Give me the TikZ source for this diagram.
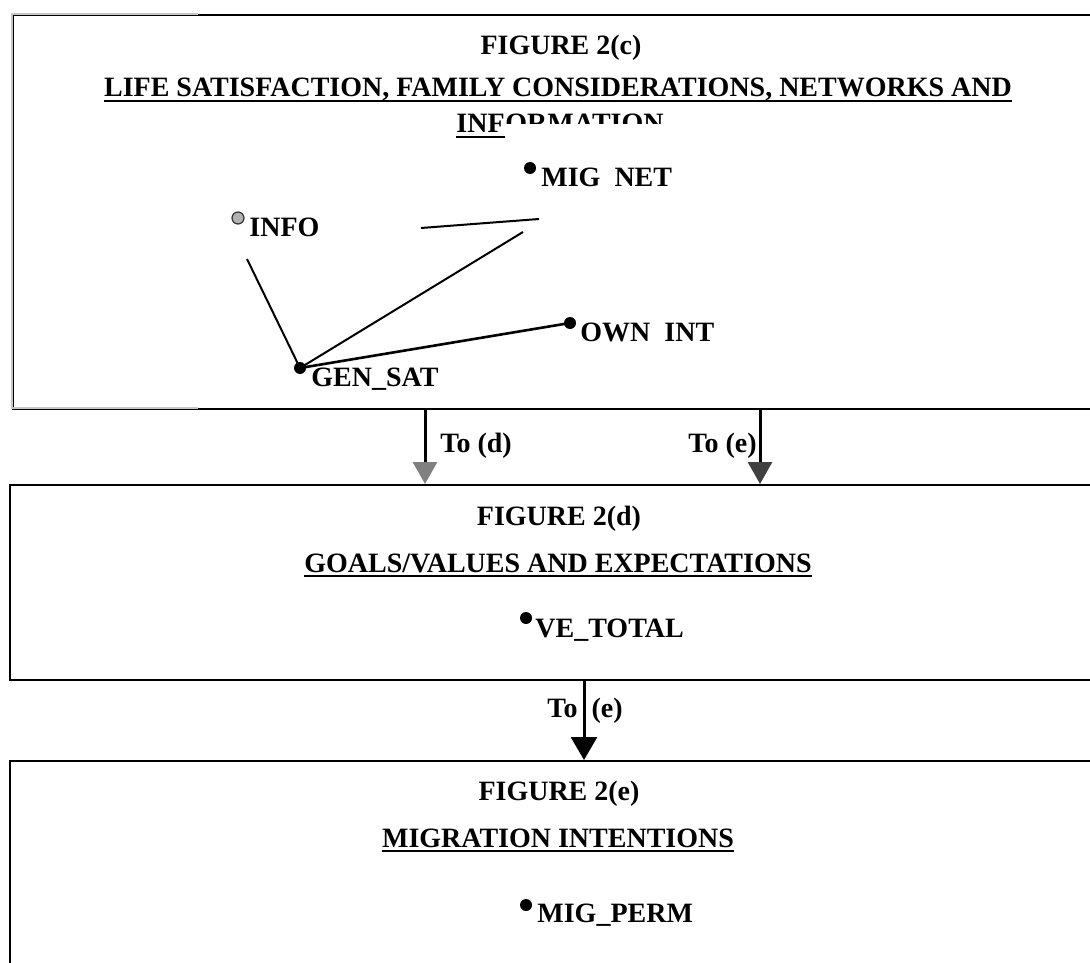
\documentclass[tikz,border=0pt]{standalone}
\usepackage{fontspec}
\setmainfont{Liberation Serif}
\usetikzlibrary{arrows.meta, positioning}
\newsavebox{\ulbox}
\newcommand{\ulbar}[1]{\sbox\ulbox{#1}\rlap{\rule[-2.6pt]{\wd\ulbox}{1.1pt}}\usebox\ulbox}

\begin{document}
\begin{tikzpicture}[x=0.5pt, y=-0.5pt,
    panel/.style={draw, line width=1.2pt, inner sep=0pt, anchor=north west},
    heading/.style={font=\bfseries\fontsize{14}{16}\selectfont, inner sep=0pt, anchor=base},
    var/.style={heading, anchor=base west},
    dot/.style={circle, fill, inner sep=0pt, minimum size=6pt},
    link/.style={line width=1pt},
    arr/.style={line width=1.5pt, -{Triangle[width=12pt, length=11pt]}}
  ]
  \useasboundingbox (0,0) rectangle (1090,962);
  \clip (0,0) rectangle (1090,962);

  % Figure 2(c)
  \node[panel, minimum width=544pt, minimum height=197pt] (boxc) at (12,14) {};
  \draw[line width=1.2pt, gray!45] (198,14) -| (12,408) -- (198,408);
  \node[heading] (figc) at (561,55) {FIGURE 2(c)};
  \node[heading] (titlec) at (558,97) {\ulbar{LIFE SATISFACTION, FAMILY CONSIDERATIONS, NETWORKS AND}};
  \node[var] (infa) at (456,133) {\ulbar{INF}};
  \begin{scope}
    \clip (infa.base east) ++(0,-9) rectangle ++(200,-40);
    \node[var] (infb) at (infa.base east) {ORMATION};
  \end{scope}

  \node[dot] (mignet) at (530,168) {};
  \node[var] at (541,187) {MIG~ NET};
  \node[dot, fill=gray!60, draw=black!80, line width=0.6pt] (info) at (238,218) {};
  \node[var] at (249,237) {INFO};
  \node[dot] (ownint) at (570,323) {};
  \node[var] at (580,341) {OWN~ INT};
  \node[dot] (gensat) at (300,368) {};
  \node[var] at (311,386) {GEN\_SAT};

  \coordinate (infoend) at (247,259);
  \coordinate (netend) at (523,232);
  \coordinate (stubl) at (421,228);
  \coordinate (stubr) at (539,219);
  \draw[link] (gensat.center) -- (infoend);
  \draw[link] (gensat.center) -- (netend);
  \draw[link] (stubl) -- (stubr);
  \draw[link, line width=1.3pt] (gensat.center) -- (ownint.center);

  % Figure 2(d)
  \node[panel, minimum width=545.5pt, minimum height=97.5pt] (boxd) at (9,484) {};
  \coordinate (tod) at (425,0);
  \coordinate (toe) at (760,0);
  \draw[arr, -{Triangle[width=12pt, length=11pt, color=gray]}] (boxc.south -| tod) -- (boxd.north -| tod);
  \draw[arr, -{Triangle[width=12pt, length=11pt, color=black!75]}] (boxc.south -| toe) -- (boxd.north -| toe);
  \node[var] at (440,452) {To (d)};
  \node[heading, anchor=base east] at (757,452) {To (e)};

  \node[heading] (figd) at (559,525) {FIGURE 2(d)};
  \node[heading] (titled) at (558,572) {\ulbar{GOALS/VALUES AND EXPECTATIONS}};
  \node[dot] (vetotal) at (526,618) {};
  \node[var] at (535,637) {VE\_TOTAL};

  % Figure 2(e)
  \node[panel, minimum width=545.5pt, minimum height=130pt] (boxe) at (9,760) {};
  \coordinate (toe2) at (584,0);
  \node[heading] at (585,717) {To\enspace(e)};
  \draw[arr, -{Triangle[width=13pt, length=11.5pt]}] (boxd.south -| toe2) -- (boxe.north -| toe2);

  \node[heading] (fige) at (559,800) {FIGURE 2(e)};
  \node[heading] (titlee) at (558,847) {\ulbar{MIGRATION INTENTIONS}};
  \node[dot] (migperm) at (526,905) {};
  \node[var] at (537,922) {MIG\_PERM};
\end{tikzpicture}
\end{document}
